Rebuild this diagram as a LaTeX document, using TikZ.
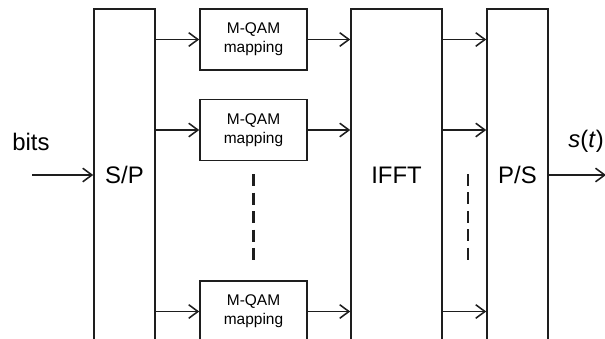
\documentclass[tikz,border=0pt]{standalone}
\usepackage{fontspec}
\setmainfont{Liberation Sans}
\usetikzlibrary{
  arrows.meta,
  positioning,
  calc
}
\definecolor{linecolor}{RGB}{30, 30, 30}
\tikzset{
bigblock/.style={
  draw=linecolor,
  line width=1.1pt,
  minimum width=1.525cm,
  minimum height=8.3cm,
  inner sep=0pt,
  font=\fontsize{17}{20}\selectfont
},
mapblock/.style={
  draw=linecolor,
  line width=1.1pt,
  minimum width=2.675cm,
  minimum height=1.525cm,
  inner sep=0pt,
  align=center,
  font=\fontsize{11}{13.5}\selectfont
},
siglabel/.style={
  font=\fontsize{17}{20}\selectfont,
  inner sep=0pt
},
arrow/.style={
  -{Straight Barb[length=2.3mm,width=3.4mm]},
  line width=1.1pt,
  draw=linecolor
},
dashline/.style={
  draw=linecolor,
  line width=1.7pt,
  dash pattern=on 0.3cm off 0.16cm
}
}

\begin{document}
\begin{tikzpicture}[x=0.025cm, y=-0.025cm]
  \clip (0,0) rectangle (605,338);

  % blocks
  \node[bigblock] (sp) at (124.5,175) {S/P};
  \node[mapblock] (map1) at (253.5,39.5) {M-QAM\\mapping};
  \node[mapblock] (map2) at (253.5,130) {M-QAM\\mapping};
  \node[mapblock] (map3) at (253.5,311.5) {M-QAM\\mapping};
  \node[bigblock, minimum width=2.275cm] (ifft) at (396.5,175) {IFFT};
  \node[bigblock] (ps) at (517.5,175) {P/S};

  % input and output
  \coordinate (in) at (32,175);
  \coordinate (out) at (606,175);
  \node[siglabel, anchor=base west] (bits) at (12,150) {bits};
  \node[siglabel, anchor=base east] (sig) at (604,147) {\textit{s}(\textit{t})};
  \draw[arrow] (in) -- (sp.west);
  \draw[arrow] (ps.east) -- (out);

  % parallel branches
  \foreach \i in {1,2,3}{
    \draw[arrow] (sp.east |- map\i.west) -- (map\i.west);
    \draw[arrow] (map\i.east) -- (ifft.west |- map\i.east);
    \draw[arrow] (ifft.east |- map\i.east) -- (ps.west |- map\i.east);
  }

  % skipped branches
  \draw[dashline] ($(map2.south)+(0,13)$) -- ($(map2.south)+(0,99)$);
  \draw[dashline] (468,174) -- (468,260);
\end{tikzpicture}
\end{document}
